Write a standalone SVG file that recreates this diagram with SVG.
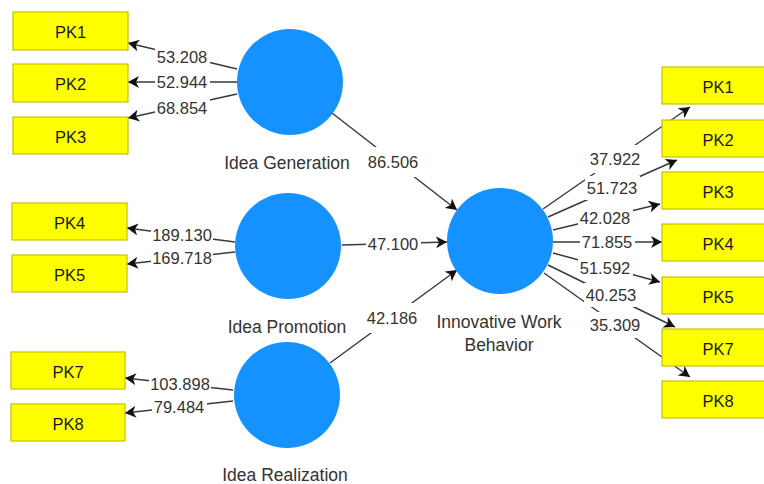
<svg xmlns="http://www.w3.org/2000/svg" width="764" height="484" viewBox="0 0 764 484">
<style>
.box{fill:#ffff00;stroke:#c2c200;stroke-width:1.2}
.bt{font-family:"Liberation Sans",Arial,sans-serif;font-size:16.5px;fill:#1a1a1a;text-anchor:middle;dominant-baseline:central}
.lv{fill:#1592ff}
.lt{font-family:"Liberation Sans",Arial,sans-serif;font-size:17.5px;fill:#333;text-anchor:middle}
.c{stroke:#3a3a3a;stroke-width:1.5;fill:none;marker-end:url(#ah)}
.bg{fill:#fff}
.nt{font-family:"Liberation Sans",Arial,sans-serif;font-size:16.5px;fill:#333;text-anchor:middle;dominant-baseline:central}
</style>
<defs>
<marker id="ah" viewBox="0 0 11 12" refX="11" refY="6" markerWidth="11" markerHeight="12" markerUnits="userSpaceOnUse" orient="auto">
<path d="M0,0 L11,6 L0,12 L3,6 Z" fill="#111"/>
</marker>
</defs>
<rect width="764" height="484" fill="#fff"/>
<g id="connectors">
<line class="c" x1="237" y1="69" x2="128" y2="43"/>
<line class="c" x1="237" y1="82" x2="128" y2="82"/>
<line class="c" x1="237" y1="94" x2="128" y2="118"/>
<line class="c" x1="235" y1="242" x2="127" y2="228"/>
<line class="c" x1="235" y1="252" x2="127" y2="264"/>
<line class="c" x1="233" y1="390" x2="125" y2="378"/>
<line class="c" x1="233" y1="401" x2="125" y2="413"/>
<line class="c" x1="332" y1="113" x2="457" y2="210"/>
<line class="c" x1="342" y1="245" x2="447" y2="242"/>
<line class="c" x1="330" y1="363" x2="457" y2="270"/>
<line class="c" x1="543" y1="209" x2="690" y2="107"/>
<line class="c" x1="548" y1="217" x2="677" y2="160"/>
<line class="c" x1="553" y1="230" x2="660" y2="204"/>
<line class="c" x1="553" y1="242" x2="662" y2="242"/>
<line class="c" x1="553" y1="253" x2="660" y2="282"/>
<line class="c" x1="548" y1="265" x2="675" y2="327"/>
<line class="c" x1="544" y1="273" x2="690" y2="377"/>
<g id="labels">
<rect class="bg" x="155" y="45" width="55" height="24"/><text class="nt" x="182" y="57">53.208</text>
<rect class="bg" x="155" y="70" width="55" height="24"/><text class="nt" x="182" y="82">52.944</text>
<rect class="bg" x="155" y="96" width="55" height="24"/><text class="nt" x="182" y="108">68.854</text>
<rect class="bg" x="151" y="223" width="62" height="24"/><text class="nt" x="182" y="235">189.130</text>
<rect class="bg" x="151" y="246" width="62" height="24"/><text class="nt" x="182" y="258">169.718</text>
<rect class="bg" x="149" y="372" width="62" height="24"/><text class="nt" x="180" y="384">103.898</text>
<rect class="bg" x="152" y="395" width="55" height="24"/><text class="nt" x="179" y="407">79.484</text>
<rect class="bg" x="366" y="147" width="55" height="30"/><text class="nt" x="393" y="162">86.506</text>
<rect class="bg" x="366" y="232" width="55" height="24"/><text class="nt" x="393" y="244">47.100</text>
<rect class="bg" x="365" y="303" width="55" height="30"/><text class="nt" x="392" y="318">42.186</text>
<rect class="bg" x="588" y="145" width="55" height="28"/><text class="nt" x="615" y="159">37.922</text>
<rect class="bg" x="585" y="176" width="55" height="24"/><text class="nt" x="612" y="188">51.723</text>
<rect class="bg" x="578" y="207" width="55" height="22"/><text class="nt" x="605" y="218">42.028</text>
<rect class="bg" x="580" y="231" width="55" height="22"/><text class="nt" x="607" y="242">71.855</text>
<rect class="bg" x="578" y="257" width="55" height="22"/><text class="nt" x="605" y="268">51.592</text>
<rect class="bg" x="584" y="283" width="55" height="24"/><text class="nt" x="611" y="295">40.253</text>
<rect class="bg" x="588" y="312" width="55" height="26"/><text class="nt" x="615" y="325">35.309</text>
</g>
</g>
<g id="ig-pk1"><rect class="box" x="13" y="12" width="115" height="38"/><text class="bt" x="70.5" y="32">PK1</text></g>
<g id="ig-pk2"><rect class="box" x="13" y="64" width="115" height="38"/><text class="bt" x="70.5" y="84">PK2</text></g>
<g id="ig-pk3"><rect class="box" x="13" y="117" width="115" height="37"/><text class="bt" x="70.5" y="136.5">PK3</text></g>
<g id="ip-pk4"><rect class="box" x="12" y="203" width="115" height="37"/><text class="bt" x="69.5" y="222.5">PK4</text></g>
<g id="ip-pk5"><rect class="box" x="12" y="255" width="115" height="37"/><text class="bt" x="69.5" y="274.5">PK5</text></g>
<g id="ir-pk7"><rect class="box" x="11" y="352" width="114" height="37"/><text class="bt" x="68" y="371.5">PK7</text></g>
<g id="ir-pk8"><rect class="box" x="11" y="404" width="114" height="37"/><text class="bt" x="68" y="423.5">PK8</text></g>
<g id="idea-generation"><circle class="lv" cx="290" cy="82" r="53"/><text class="lt" x="287" y="169">Idea Generation</text></g>
<g id="idea-promotion"><circle class="lv" cx="288" cy="246" r="53"/><text class="lt" x="287" y="333">Idea Promotion</text></g>
<g id="idea-realization"><circle class="lv" cx="287" cy="395" r="53"/><text class="lt" x="285" y="481">Idea Realization</text></g>
<g id="innovative-work-behavior"><circle class="lv" cx="500" cy="241" r="53"/><text class="lt" x="499" y="328">Innovative Work</text><text class="lt" x="499" y="351">Behavior</text></g>
<g id="iwb-pk1"><rect class="box" x="662" y="67" width="115" height="37"/><text class="bt" x="718" y="86.5">PK1</text></g>
<g id="iwb-pk2"><rect class="box" x="662" y="120" width="115" height="37"/><text class="bt" x="718" y="139.5">PK2</text></g>
<g id="iwb-pk3"><rect class="box" x="662" y="172" width="115" height="37"/><text class="bt" x="718" y="191.5">PK3</text></g>
<g id="iwb-pk4"><rect class="box" x="662" y="224" width="115" height="37"/><text class="bt" x="718" y="243.5">PK4</text></g>
<g id="iwb-pk5"><rect class="box" x="662" y="277" width="115" height="37"/><text class="bt" x="718" y="296.5">PK5</text></g>
<g id="iwb-pk7"><rect class="box" x="662" y="329" width="115" height="37"/><text class="bt" x="718" y="348.5">PK7</text></g>
<g id="iwb-pk8"><rect class="box" x="662" y="381" width="115" height="37"/><text class="bt" x="718" y="400.5">PK8</text></g>
</svg>
